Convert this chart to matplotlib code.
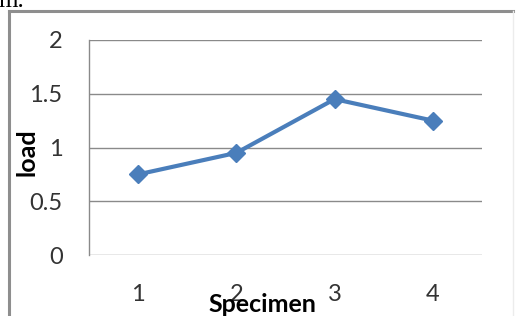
import matplotlib
matplotlib.use("Agg")
import matplotlib.pyplot as plt
from matplotlib.lines import Line2D

categories = ["1", "2", "3", "4"]
load = [0.75, 0.95, 1.45, 1.25]
y_ticks = [0, 0.5, 1, 1.5, 2]
y_tick_labels = ["0", "0.5", "1", "1.5", "2"]

W, H = 516, 316
fig = plt.figure(figsize=(W / 100, H / 100), dpi=100)
fig.patch.set_facecolor("white")
plt.rcParams['font.family'] = ['Lato', 'DejaVu Sans']

# outer chart frame
fig.add_artist(Line2D([9 / W, 9 / W], [0, 1 - 11 / H], transform=fig.transFigure,
                      color="#8e8e8e", lw=2.2))
fig.add_artist(Line2D([9 / W, 513 / W], [1 - 11 / H, 1 - 11 / H], transform=fig.transFigure,
                      color="#8e8e8e", lw=2.2))
fig.add_artist(Line2D([513 / W, 513 / W], [0, 1 - 11 / H], transform=fig.transFigure,
                      color="#ececec", lw=1.0))
fig.text(-2 / W, 1 + 10 / H, "m.", fontsize=18, family="Liberation Serif", color="black",
         ha="left", va="top")

ax = fig.add_axes([89 / W, 1 - 255 / H, (482 - 89) / W, (255 - 40) / H])
x = list(range(1, len(categories) + 1))
ax.plot(x, load, color="#4a7ebb", lw=3.0, marker="D", markersize=9,
        markerfacecolor="#4a7ebb", markeredgecolor="#4a7ebb", zorder=3)
ax.set_xlim(0.5, len(categories) + 0.5)
ax.set_ylim(0, 2)
ax.set_yticks(y_ticks)
ax.set_yticklabels(y_tick_labels)
ax.set_xticks(x)
ax.set_xticklabels(categories)
ax.grid(axis="y", color="#8a8a8a", lw=1.0)
ax.set_axisbelow(True)
for s in ["top", "right", "bottom"]:
    ax.spines[s].set_visible(False)
ax.spines["left"].set_color("#8a8a8a")
ax.spines["left"].set_linewidth(1.0)
ax.tick_params(axis="both", length=0, labelsize=17, colors="#333333")
ax.tick_params(axis="y", pad=19)
ax.tick_params(axis="x", pad=21)

fig.text(262 / W, 1 - 304 / H, "Specimen", fontsize=18, fontweight="bold",
         ha="center", va="center", color="black")
fig.text(27 / W, 1 - 152 / H, "load", fontsize=18, fontweight="bold", rotation=90,
         ha="center", va="center", color="black")

fig.savefig("out.png", dpi=100, facecolor="white")
